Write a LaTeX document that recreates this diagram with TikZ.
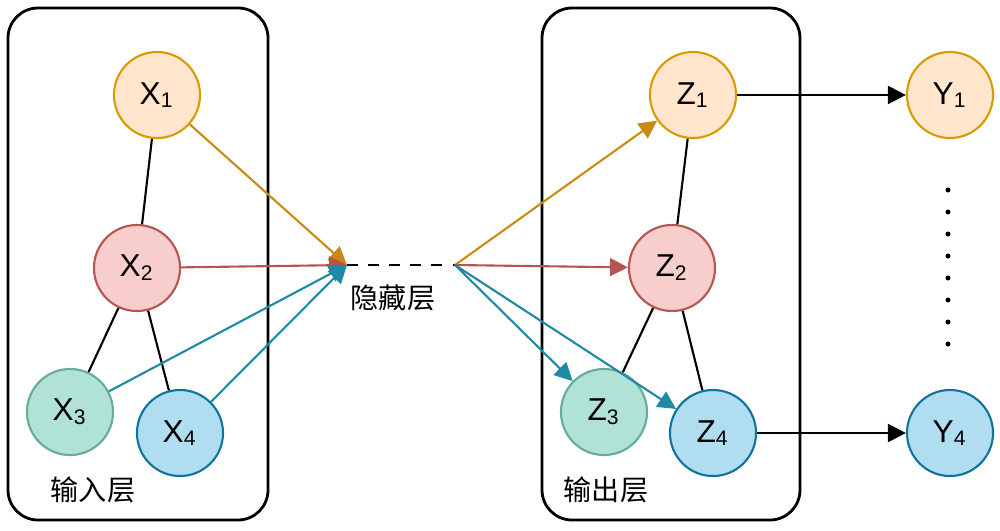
\documentclass[tikz,border=0pt]{standalone}
\usepackage{fontspec}
\setmainfont{Liberation Sans}
\newfontfamily\cjk{Noto Sans CJK SC}
\usetikzlibrary{arrows.meta}
\definecolor{orfill}{HTML}{FFE6CC}\definecolor{ordraw}{HTML}{D79B00}
\definecolor{rdfill}{HTML}{F8CECC}\definecolor{rddraw}{HTML}{B85450}
\definecolor{grfill}{HTML}{B0E3D6}\definecolor{grdraw}{HTML}{67AB9F}
\definecolor{blfill}{HTML}{B1DDF0}\definecolor{bldraw}{HTML}{10739E}
\definecolor{orarr}{HTML}{C88A14}\definecolor{tlarr}{HTML}{1F8AA5}
\tikzset{
  unit/.style={circle,minimum size=0.86cm,inner sep=0pt,semithick,font=\fontsize{9}{10}\selectfont},
  orunit/.style={unit,draw=ordraw,fill=orfill},
  rdunit/.style={unit,draw=rddraw,fill=rdfill},
  grunit/.style={unit,draw=grdraw,fill=grfill},
  blunit/.style={unit,draw=bldraw,fill=blfill},
  layer/.style={draw,rounded corners=0.3cm,thick},
  flow/.style={semithick,-{Triangle[length=1.8mm,width=1.8mm]}},
  cn/.style={font=\cjk\fontsize{8}{9}\selectfont}
}
\begin{document}
\begin{tikzpicture}[x=0.01cm,y=-0.01cm]
  \useasboundingbox (0,0) rectangle (1000,530);
  % layers
  \draw[layer] (8,8) rectangle (268,520);
  \draw[layer] (542,8) rectangle (800,520);
  \node[cn] at (93,490) {输入层};
  \node[cn] at (606,490) {输出层};
  % input units
  \node[orunit] (x1) at (157,95) {X\textsubscript{1}};
  \node[rdunit] (x2) at (137,268) {X\textsubscript{2}};
  \node[grunit] (x3) at (70,412) {X\textsubscript{3}};
  \node[blunit] (x4) at (180,433) {X\textsubscript{4}};
  % output units
  \node[orunit] (z1) at (693,95) {Z\textsubscript{1}};
  \node[rdunit] (z2) at (672,268) {Z\textsubscript{2}};
  \node[grunit] (z3) at (604,412) {Z\textsubscript{3}};
  \node[blunit] (z4) at (713,433) {Z\textsubscript{4}};
  \node[orunit] (y1) at (950,95) {Y\textsubscript{1}};
  \node[blunit] (y4) at (950,433) {Y\textsubscript{4}};
  % hidden layer
  \coordinate (hin) at (347,265);
  \coordinate (hout) at (455,265);
  \draw[dashed,thick] (hin) -- (hout);
  \node[cn] (hid) at (393,298) {隐藏层};
  \draw[semithick] (x1) -- (x2) (x2) -- (x3) (x2) -- (x4);
  \draw[semithick] (z1) -- (z2) (z2) -- (z3) (z2) -- (z4);
  \draw[flow,orarr] (x1) -- (hin);
  \draw[flow,rddraw] (x2) -- (hin);
  \draw[flow,tlarr] (x3) -- (hin);
  \draw[flow,tlarr] (x4) -- (hin);
  \draw[flow,orarr] (hout) -- (z1);
  \draw[flow,rddraw] (hout) -- (z2);
  \draw[flow,tlarr] (hout) -- (z3);
  \draw[flow,tlarr] (hout) -- (z4);
  \draw[flow,black] (z1) -- (y1);
  \draw[flow,black] (z4) -- (y4);
  \foreach \y in {190,212,...,345} {
    \fill (948,\y) circle(2.5);
  }
\end{tikzpicture}
\end{document}
